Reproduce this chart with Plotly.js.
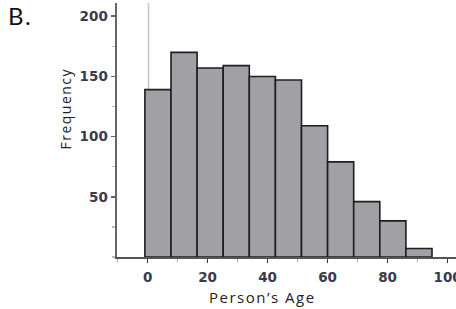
<!DOCTYPE html>
<html>
<head>
<meta charset="utf-8">
<script src="https://cdn.plot.ly/plotly-3.0.1.min.js"></script>
<style>
  html, body { margin: 0; padding: 0; background: #fff; }
  #chart { width: 456px; height: 309px; }
  .annotation-text { letter-spacing: 1.5px; }
</style>
</head>
<body>
<div id="chart"></div>
<script>
// Histogram bins (centre of each bin, in years) and counts
const binCenters = [3.45, 12.15, 20.85, 29.55, 38.25, 46.95, 55.65, 64.35, 73.05, 81.75, 90.45];
const binWidth = 8.7;
const frequency = [139, 170, 157, 159, 150, 147, 109, 79, 46, 30, 7];
const xTickVals = [0, 20, 40, 60, 80, 100];
const yTickVals = [50, 100, 150, 200];
const refLineX = 0.3;

const trace = {
  type: 'bar',
  x: binCenters,
  y: frequency,
  width: binCenters.map(() => binWidth),
  marker: { color: '#a1a1a5', line: { color: '#1e1e1e', width: 1.6 } },
  hoverinfo: 'skip'
};

const tickFont = { family: 'DejaVu Sans, Verdana, sans-serif', size: 13.5, color: '#3a3a4c', weight: 'bold' };

const layout = {
  width: 456, height: 309,
  margin: { l: 117, r: 0, t: 3, b: 52 },
  paper_bgcolor: '#ffffff', plot_bgcolor: '#ffffff',
  showlegend: false,
  bargap: 0,
  xaxis: {
    range: [-10.2, 102.8],
    tickvals: xTickVals,
    ticks: 'outside', ticklen: 4, tickwidth: 1.5, tickcolor: '#333',
    minor: { dtick: 10, tick0: 0, ticks: 'outside', ticklen: 3, tickcolor: '#aaa', tickwidth: 1.5 },
    showline: true, linecolor: '#555', linewidth: 2,
    showgrid: false, zeroline: false,
    tickfont: tickFont,
    ticklabeloverflow: 'allow',
    ticklabelstandoff: 3
  },
  yaxis: {
    range: [0, 211],
    tickvals: yTickVals,
    ticks: 'outside', ticklen: 4, tickwidth: 1.5, tickcolor: '#666',
    minor: { dtick: 25, tick0: 0, ticks: 'outside', ticklen: 3, tickcolor: '#bbb', tickwidth: 1.5 },
    showline: true, linecolor: '#666', linewidth: 2.5,
    showgrid: false, zeroline: false,
    tickfont: tickFont
  },
  shapes: [{
    type: 'line', layer: 'below',
    xref: 'x', yref: 'paper',
    x0: refLineX, x1: refLineX, y0: 0, y1: 1,
    line: { color: '#c4c4c4', width: 1.5 }
  }],
  annotations: [
    { text: 'B.', xref: 'paper', yref: 'paper', x: -0.285, y: 0.949,
      xanchor: 'center', yanchor: 'middle', showarrow: false,
      font: { family: 'Lato, Open Sans, sans-serif', size: 24, color: '#111' } },
    { text: 'Frequency', xref: 'paper', yref: 'paper', x: -0.153, y: 0.585,
      xanchor: 'center', yanchor: 'middle', textangle: -90, showarrow: false,
      font: { family: 'Open Sans, sans-serif', size: 14, color: '#222' } },
    { text: 'Person\u2019s Age', xref: 'paper', yref: 'paper', x: 0.428, y: -0.156,
      xanchor: 'center', yanchor: 'middle', showarrow: false,
      font: { family: 'Open Sans, sans-serif', size: 15, color: '#222' } }
  ]
};

Plotly.newPlot('chart', [trace], layout, { displayModeBar: false, staticPlot: true });
</script>
</body>
</html>
